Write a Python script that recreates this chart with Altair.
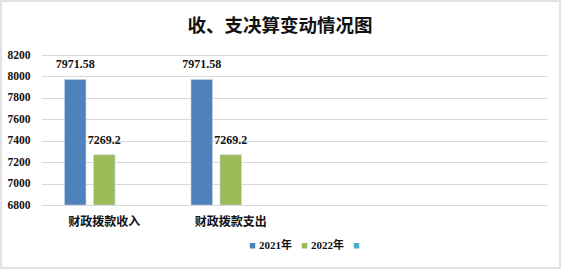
import altair as alt
import pandas as pd

title_text = "收、支决算变动情况图"
categories = ["财政拨款收入", "财政拨款支出", " ", "  "]
series = ["2021年", "2022年", " "]
values_2021 = [7971.58, 7971.58]
values_2022 = [7269.2, 7269.2]
label_2021 = ["7971.58", "7971.58"]
label_2022 = ["7269.2", "7269.2"]
colors = ["#4F81BD", "#9BBB59", "#4BACC6"]
y_ticks = [6800, 7000, 7200, 7400, 7600, 7800, 8000, 8200]

rows = []
for i in range(2):
    rows.append({"cat": categories[i], "ser": series[0], "val": values_2021[i], "lab": label_2021[i]})
    rows.append({"cat": categories[i], "ser": series[1], "val": values_2022[i], "lab": label_2022[i]})
df = pd.DataFrame(rows)

FONT = "'Liberation Serif', 'Noto Sans CJK SC'"

x_enc = alt.X("cat:N", scale=alt.Scale(domain=categories, paddingInner=0.312, paddingOuter=0.156),
              sort=categories,
              axis=alt.Axis(title=None, labelAngle=0, ticks=False, domain=False, labelPadding=11,
                            labelFontSize=12, labelFont=FONT, labelFontWeight="bold", labelColor="#111"))
xo_enc = alt.XOffset("ser:N", scale=alt.Scale(domain=series, paddingInner=0.26, paddingOuter=0.13))
y_enc = alt.Y("val:Q", scale=alt.Scale(domain=[6800, 8200], zero=False, nice=False),
              axis=alt.Axis(title=None, values=y_ticks, format="d", ticks=False, domain=False, labelPadding=11,
                            labelFontSize=11.5, labelFont=FONT, labelFontWeight="bold", labelColor="#111",
                            grid=True, gridColor="#d9d9d9", gridWidth=1.2))
color_enc = alt.Color("ser:N", scale=alt.Scale(domain=series, range=colors),
                      legend=alt.Legend(title=None, orient="none", legendX=206, legendY=185,
                                        direction="horizontal", symbolType="square", symbolSize=30,
                                        symbolStrokeWidth=0, labelFontSize=11, labelFont=FONT,
                                        labelFontWeight="bold", labelColor="#111", labelOffset=1,
                                        columnPadding=7))

base = alt.Chart(df)

bars = base.mark_bar(stroke="#c6d6ea", strokeWidth=0.8, strokeOpacity=0.7).encode(
    x=x_enc, xOffset=xo_enc, y=y_enc, y2=alt.datum(6800), color=color_enc
)

labels = base.mark_text(dy=-11, baseline="alphabetic", fontSize=12, font=FONT,
                        fontWeight="bold", color="#111").encode(
    x=x_enc, xOffset=xo_enc, y=y_enc, text="lab:N"
)

one = pd.DataFrame({"t": [title_text]})

frame = alt.Chart(one).mark_rect(fill=None, stroke="#d9d9d9", strokeWidth=1.5).encode(
    x=alt.value(-40), x2=alt.value(519), y=alt.value(-54), y2=alt.value(213)
)

title = alt.Chart(one).mark_text(fontSize=18.5, font="Noto Sans CJK SC", fontWeight="bold",
                                 color="#111", align="center", baseline="middle").encode(
    x=alt.value(239), y=alt.value(-29.5), text="t:N"
)

chart = alt.layer(frame, bars, labels, title).properties(
    width=506, height=150,
    padding={"left": 41, "top": 55, "right": 16, "bottom": 71},
    autosize=alt.AutoSizeParams(type="none"),
    background="white",
).configure_view(stroke=None)

chart.save("out.html", embed_options={"renderer": "svg", "actions": False})
